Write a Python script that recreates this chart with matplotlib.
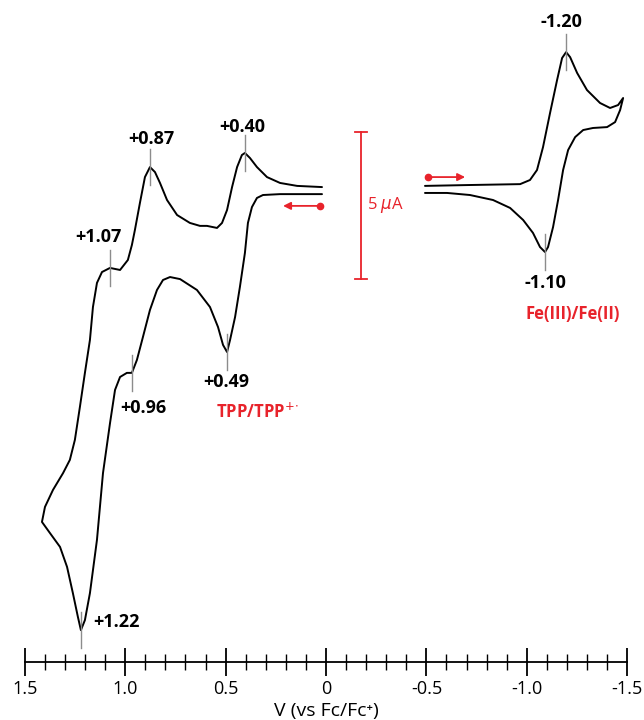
import matplotlib.pyplot as plt
from matplotlib.ticker import MultipleLocator, FixedLocator, FuncFormatter

plt.rcParams['font.family'] = ['Open Sans', 'DejaVu Sans']

RED = '#e8232b'
GRAY = '#8c8c8c'

# TPP wave, scan from 0 V to +1.415 V and back (V vs Fc/Fc+, current in uA)
tpp_v = [0.020, 0.130, 0.229, 0.314, 0.344, 0.369, 0.389, 0.404, 0.429, 0.453,
         0.478, 0.493, 0.513, 0.538, 0.578, 0.643, 0.727, 0.777, 0.812, 0.842,
         0.877, 0.912, 0.942, 0.967, 0.992, 1.026, 1.051, 1.076, 1.111, 1.141,
         1.176, 1.201, 1.221, 1.236, 1.261, 1.290, 1.325, 1.375, 1.415,
         1.400, 1.360, 1.310, 1.276, 1.251, 1.226, 1.201, 1.176, 1.161, 1.141,
         1.116, 1.076, 1.026, 0.987, 0.967, 0.952, 0.927, 0.902, 0.877, 0.852,
         0.827, 0.792, 0.742, 0.678, 0.628, 0.593, 0.543, 0.518, 0.493, 0.468,
         0.443, 0.419, 0.404, 0.379, 0.344, 0.294, 0.229, 0.144, 0.020]
tpp_i = [-0.14, -0.14, -0.14, -0.17, -0.27, -0.58, -1.12, -2.14, -3.30, -4.32,
         -5.10, -5.51, -5.27, -4.66, -3.98, -3.40, -3.03, -2.96, -3.06, -3.40,
         -4.08, -5.00, -5.78, -6.22, -6.22, -6.36, -6.80, -7.93, -9.63, -11.90,
         -13.71, -14.63, -14.97, -14.52, -13.71, -12.82, -12.14, -11.67, -11.29,
         -10.78, -10.20, -9.63, -9.18, -8.50, -7.38, -6.22, -5.10, -3.98, -3.16,
         -2.79, -2.65, -2.72, -2.38, -1.87, -1.36, -0.44, 0.44, 0.78, 0.61,
         0.24, -0.34, -0.85, -1.12, -1.22, -1.22, -1.29, -1.12, -0.68, 0.10,
         0.78, 1.19, 1.26, 1.09, 0.78, 0.44, 0.24, 0.14, 0.10]

# Fe(III)/Fe(II) wave, scan from -0.49 V to -1.48 V and back
fe_v = [-0.493, -0.717, -0.967, -1.016, -1.051, -1.081, -1.116, -1.151, -1.176, -1.196,
        -1.216, -1.251, -1.300, -1.365, -1.415, -1.455, -1.480,
        -1.465, -1.440, -1.400, -1.330, -1.281, -1.241, -1.206, -1.181, -1.156, -1.131,
        -1.106, -1.091, -1.066, -1.031, -0.982, -0.917, -0.832, -0.717, -0.603, -0.493]
fe_i = [0.14, 0.17, 0.20, 0.34, 0.68, 1.46, 2.62, 3.74, 4.49, 4.69,
        4.52, 3.98, 3.40, 2.96, 2.79, 2.89, 3.13,
        2.72, 2.31, 2.14, 2.11, 2.04, 1.80, 1.36, 0.68, -0.34, -1.26,
        -1.94, -2.11, -1.94, -1.46, -1.02, -0.61, -0.34, -0.17, -0.10, -0.10]

# peak marks: potential and current of each peak
peak_v = [0.877, 0.404, 1.076, 0.967, 0.493, 1.221, -1.196, -1.091]
peak_i = [0.78, 1.26, -2.65, -6.22, -5.51, -14.97, 4.69, -2.11]

tick_labels = {1.5: '1.5', 1.0: '1.0', 0.5: '0.5', 0.0: '0', -0.5: '-0.5',
               -1.0: '-1.0', -1.5: '-1.5'}

fig = plt.figure(figsize=(6.44, 7.2), dpi=100)
ax = fig.add_axes([0, 0, 1, 1])
ax.set_xlim(1.624, -1.584)
ax.set_ylim(-18.027, 6.463)
ax.axis('off')

ax.plot(tpp_v, tpp_i, color='black', lw=1.4, solid_joinstyle='round', solid_capstyle='round')
ax.plot(fe_v, fe_i, color='black', lw=1.4, solid_joinstyle='round', solid_capstyle='round')

# grey marks at the peaks
for v, i in zip(peak_v, peak_i):
    ax.plot([v, v], [i - 0.6, i + 0.6], color=GRAY, lw=1.0)

lab = dict(fontsize=13, fontweight='bold', ha='center', va='center')
ax.text(0.872, 1.73, '+0.87', **lab)
ax.text(0.419, 2.14, '+0.40', **lab)
ax.text(1.136, -1.60, '+1.07', **lab)
ax.text(0.912, -7.41, '+0.96', **lab)
ax.text(0.498, -6.53, '+0.49', **lab)
ax.text(1.161, -14.69, '+1.22', fontsize=13, fontweight='bold', ha='left', va='center')
ax.text(-1.171, 5.71, '-1.20', **lab)
ax.text(-1.091, -3.16, '-1.10', **lab)

ax.text(0.344, -7.55, 'TPP/TPP$^{+\\!\\cdot}$', color=RED, fontsize=12,
        fontweight='bold', ha='center', va='center')
ax.text(-1.231, -4.22, 'Fe(III)/Fe(II)', color=RED, fontsize=12,
        fontweight='bold', ha='center', va='center')

# 5 uA scale bar
bar_v = -0.174
bar_top = 1.97
ax.plot([bar_v, bar_v], [bar_top, bar_top - 5], color=RED, lw=1.3)
for y in (bar_top, bar_top - 5):
    ax.plot([bar_v + 0.03, bar_v - 0.03], [y, y], color=RED, lw=1.3)
ax.text(-0.204, -0.51, '5 $\\mu$A', color=RED, fontsize=12, ha='left', va='center')

# scan direction arrows
ax.plot([0.030], [-0.54], 'o', color=RED, ms=4.5)
ax.annotate('', xy=(0.214, -0.54), xytext=(0.030, -0.54),
            arrowprops=dict(arrowstyle='-|>', color=RED, lw=1.3, mutation_scale=11,
                            shrinkA=0, shrinkB=0))
ax.plot([-0.508], [0.44], 'o', color=RED, ms=4.5)
ax.annotate('', xy=(-0.693, 0.44), xytext=(-0.508, 0.44),
            arrowprops=dict(arrowstyle='-|>', color=RED, lw=1.3, mutation_scale=11,
                            shrinkA=0, shrinkB=0))

# potential axis
axx = fig.add_axes([0, 1 - 662 / 720, 1, 0.0001])
axx.set_xlim(1.624, -1.584)
axx.set_yticks([])
for s in ('top', 'left', 'right'):
    axx.spines[s].set_visible(False)
axx.spines['bottom'].set_bounds(1.5, -1.5)
axx.spines['bottom'].set_linewidth(1.3)
axx.patch.set_visible(False)
axx.xaxis.set_major_locator(MultipleLocator(0.5))
axx.xaxis.set_minor_locator(FixedLocator([k / 10 for k in range(-15, 16)]))
axx.xaxis.set_major_formatter(FuncFormatter(lambda x, p: tick_labels.get(round(x, 1), '')))
axx.tick_params(axis='x', which='major', direction='inout', length=20, width=1.3,
                labelsize=13, pad=3)
axx.tick_params(axis='x', which='minor', direction='inout', length=11, width=1.0)

fig.text(326 / 644, 1 - 711 / 720, 'V (vs Fc/Fc⁺)', fontsize=14, ha='center', va='center')

fig.savefig('out.png', dpi=100)
